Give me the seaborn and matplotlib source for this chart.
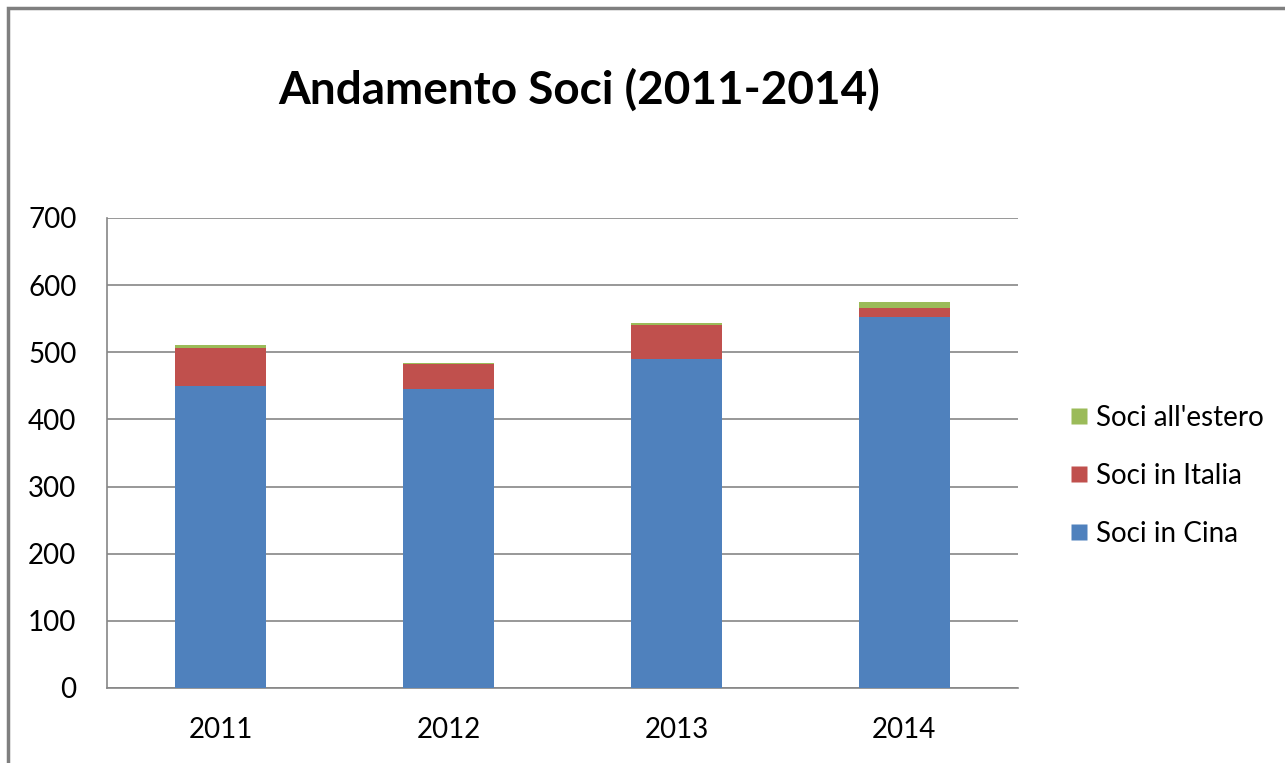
import pandas as pd
import numpy as np
import matplotlib
matplotlib.use("Agg")
import matplotlib.pyplot as plt
from matplotlib.patches import Rectangle
from matplotlib.lines import Line2D
import seaborn as sns

# data
anni = ["2011", "2012", "2013", "2014"]
soci_cina = [450, 445, 490, 552]
soci_italia = [56, 37, 50, 14]
soci_estero = [5, 2, 3, 9]

df = pd.DataFrame({"Anno": anni, "Cina": soci_cina, "Italia": soci_italia, "Estero": soci_estero})
df["cum_italia"] = df["Cina"] + df["Italia"]
df["cum_estero"] = df["cum_italia"] + df["Estero"]

sns.set_style("white")
plt.rcParams["font.family"] = ["Lato", "DejaVu Sans"]
plt.rcParams["text.color"] = "black"
plt.rcParams["xtick.color"] = "black"
plt.rcParams["ytick.color"] = "black"

col_cina = "#4F81BD"
col_italia = "#C0504D"
col_estero = "#9BBB59"
grigio = "#868686"

fig = plt.figure(figsize=(12.85, 7.63), dpi=100)
ax = fig.add_axes([107/1285, 1-688/763, (1018-107)/1285, (688-218)/763])

# stacked bars drawn as cumulative layers
sns.barplot(data=df, x="Anno", y="cum_estero", color=col_estero, width=0.4, saturation=1, ax=ax, zorder=3)
sns.barplot(data=df, x="Anno", y="cum_italia", color=col_italia, width=0.4, saturation=1, ax=ax, zorder=3)
sns.barplot(data=df, x="Anno", y="Cina", color=col_cina, width=0.4, saturation=1, ax=ax, zorder=3)
for p in ax.patches:
    p.set_edgecolor("none")

ax.set_ylim(0, 700)
ax.set_xlim(-0.5, 3.5)
ax.set_yticks(range(0, 701, 100))
ax.yaxis.grid(True, color=grigio, linewidth=1.2, zorder=0)
ax.set_axisbelow(True)
ax.set_xlabel("")
ax.set_ylabel("")
for s in ["top", "right"]:
    ax.spines[s].set_visible(False)
for s in ["left", "bottom"]:
    ax.spines[s].set_color(grigio)
    ax.spines[s].set_linewidth(1.2)

# x ticks at category boundaries, labels centered
ax.set_xticks([-0.5, 0.5, 1.5, 2.5, 3.5])
ax.set_xticklabels([])
ax.set_xticks(range(len(anni)), minor=True)
ax.set_xticklabels(anni, minor=True)
ax.tick_params(axis="x", which="major", direction="out", length=8, color=grigio, width=1.2)
ax.tick_params(axis="x", which="minor", length=0, labelsize=20, pad=21)
ax.tick_params(axis="y", direction="out", length=8, color=grigio, width=1.2, labelsize=20, pad=14)

fig.text(579/1285, 1-90/763, "Andamento Soci (2011-2014)", ha="center", va="center",
         fontsize=33, fontweight="bold")

handles = [
    Line2D([], [], marker="s", linestyle="none", markersize=12, markerfacecolor=col_estero, markeredgecolor="none"),
    Line2D([], [], marker="s", linestyle="none", markersize=12, markerfacecolor=col_italia, markeredgecolor="none"),
    Line2D([], [], marker="s", linestyle="none", markersize=12, markerfacecolor=col_cina, markeredgecolor="none"),
]
fig.legend(handles, ["Soci all'estero", "Soci in Italia", "Soci in Cina"],
           loc="center left", bbox_to_anchor=(1040/1285, 1-476/763), frameon=False,
           fontsize=20, labelspacing=1.15, handletextpad=0.1, handlelength=1.0)

# outer frame of the chart area
fig.patches.append(Rectangle((8/1285, -0.05), 1.2, 1-8/763+0.05, transform=fig.transFigure,
                             fill=False, edgecolor="#7F7F7F", linewidth=2.5))

fig.savefig("out.png", dpi=100)
